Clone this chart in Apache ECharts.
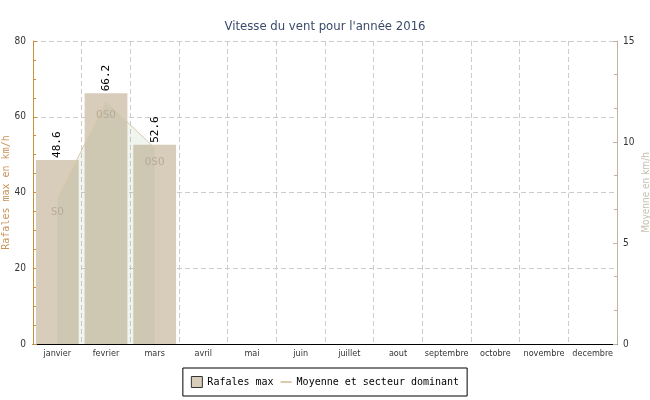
<!DOCTYPE html>
<html><head><meta charset="utf-8">
<script src="https://cdn.jsdelivr.net/npm/echarts@6/dist/echarts.min.js"></script>
<style>html,body{margin:0;padding:0;background:#fff}#c{width:650px;height:400px}</style>
</head><body><div id="c"></div>
<script>
const months = ['janvier','fevrier','mars','avril','mai','juin','juillet','aout','septembre','octobre','novembre','decembre'];
const gusts = [48.6, 66.2, 52.6, null, null, null, null, null, null, null, null, null];
const meanWind = [7.2, 12.0, 9.7, null, null, null, null, null, null, null, null, null];
const sectors = ['SO', 'OSO', 'OSO', '', '', '', '', '', '', '', '', ''];
const titleText = "Vitesse du vent pour l'année 2016";
const leftName = 'Rafales max en km/h';
const rightName = 'Moyenne en km/h';
const gustName = 'Rafales max';
const meanName = 'Moyenne et secteur dominant';

const chart = echarts.init(document.getElementById('c'), null, {renderer:'canvas'});
const mono = 'DejaVu Sans Mono';
const cond = 'DejaVu Sans Condensed';
chart.setOption({
  animation: false,
  backgroundColor: '#fff',
  title: {text: titleText, left: 'center', top: 15,
    textStyle: {fontFamily: cond, fontSize: 13, fontWeight: 'normal', color: '#3b4a6b'}},
  grid: {left: 33, right: 33, top: 41, bottom: 56, containLabel: false, outerBoundsMode: 'none'},
  legend: {
    bottom: 4, left: 'center', orient: 'horizontal',
    borderColor: '#000', borderWidth: 1, borderRadius: 0, padding: [8, 8, 8, 8],
    itemWidth: 11, itemHeight: 11, itemGap: 6,
    textStyle: {fontFamily: mono, fontSize: 10, color: '#000'},
    data: [
      {name: gustName, icon: 'rect', itemStyle: {color: '#d8ccba', borderColor: '#333', borderWidth: 1}},
      {name: meanName}
    ]
  },
  xAxis: {
    type: 'category', data: months, boundaryGap: true,
    axisLine: {lineStyle: {color: '#000', width: 1}},
    axisTick: {inside: true, length: 5, lineStyle: {color: '#000'}},
    axisLabel: {fontFamily: cond, fontSize: 9, color: '#333', margin: 5, interval: 0},
    splitLine: {show: true, lineStyle: {color: '#ccc', type: [5, 3]}}
  },
  yAxis: [
    {type: 'value', min: 0, max: 80, interval: 20, position: 'left',
      name: leftName, nameLocation: 'middle', nameGap: 22, nameRotate: 90, nameMoveOverlap: false,
      nameTextStyle: {fontFamily: mono, fontSize: 10, color: '#c8955a'},
      axisLine: {show: true, lineStyle: {color: '#c8903c'}},
      axisTick: {show: true, inside: true, length: 4, lineStyle: {color: '#c8903c'}},
      minorTick: {show: true, splitNumber: 4, length: 3, lineStyle: {color: '#c8903c'}},
      axisLabel: {fontFamily: cond, fontSize: 10, color: '#333', margin: 7},
      splitLine: {show: true, lineStyle: {color: '#ccc', type: [5, 3]}}
    },
    {type: 'value', min: 0, max: 15, interval: 5, position: 'right',
      name: rightName, nameLocation: 'middle', nameGap: 24, nameRotate: 90, nameMoveOverlap: false,
      nameTextStyle: {fontFamily: cond, fontSize: 10, color: '#c8c0b0'},
      axisLine: {show: true, lineStyle: {color: '#bdb4a2'}},
      axisTick: {show: true, inside: true, length: 4, lineStyle: {color: '#bdb4a2'}},
      minorTick: {show: true, splitNumber: 3, length: 3, lineStyle: {color: '#bdb4a2'}},
      axisLabel: {fontFamily: cond, fontSize: 10, color: '#333', margin: 6},
      splitLine: {show: false}
    }
  ],
  series: [
    {name: gustName, type: 'bar', yAxisIndex: 0, data: gusts, barWidth: '88%',
      itemStyle: {color: '#d8ccba'},
      label: {show: true, position: 'top', rotate: 90, align: 'left', verticalAlign: 'middle', distance: 2,
        fontFamily: mono, fontSize: 11, color: '#000',
        formatter: p => p.value == null ? '' : p.value.toFixed(1)}
    },
    {name: meanName, type: 'line', yAxisIndex: 1, data: meanWind,
      symbol: 'circle', symbolSize: 1, showSymbol: true,
      itemStyle: {color: 'rgba(220,204,170,0)'},
      lineStyle: {color: '#dccaa8', width: 1},
      areaStyle: {color: 'rgba(133,178,133,0.18)', origin: 'start'},
      label: {show: true, position: 'bottom', distance: 8, fontFamily: mono, fontSize: 11, color: '#b8aa98',
        formatter: p => sectors[p.dataIndex]}
    }
  ]
});
</script></body></html>
